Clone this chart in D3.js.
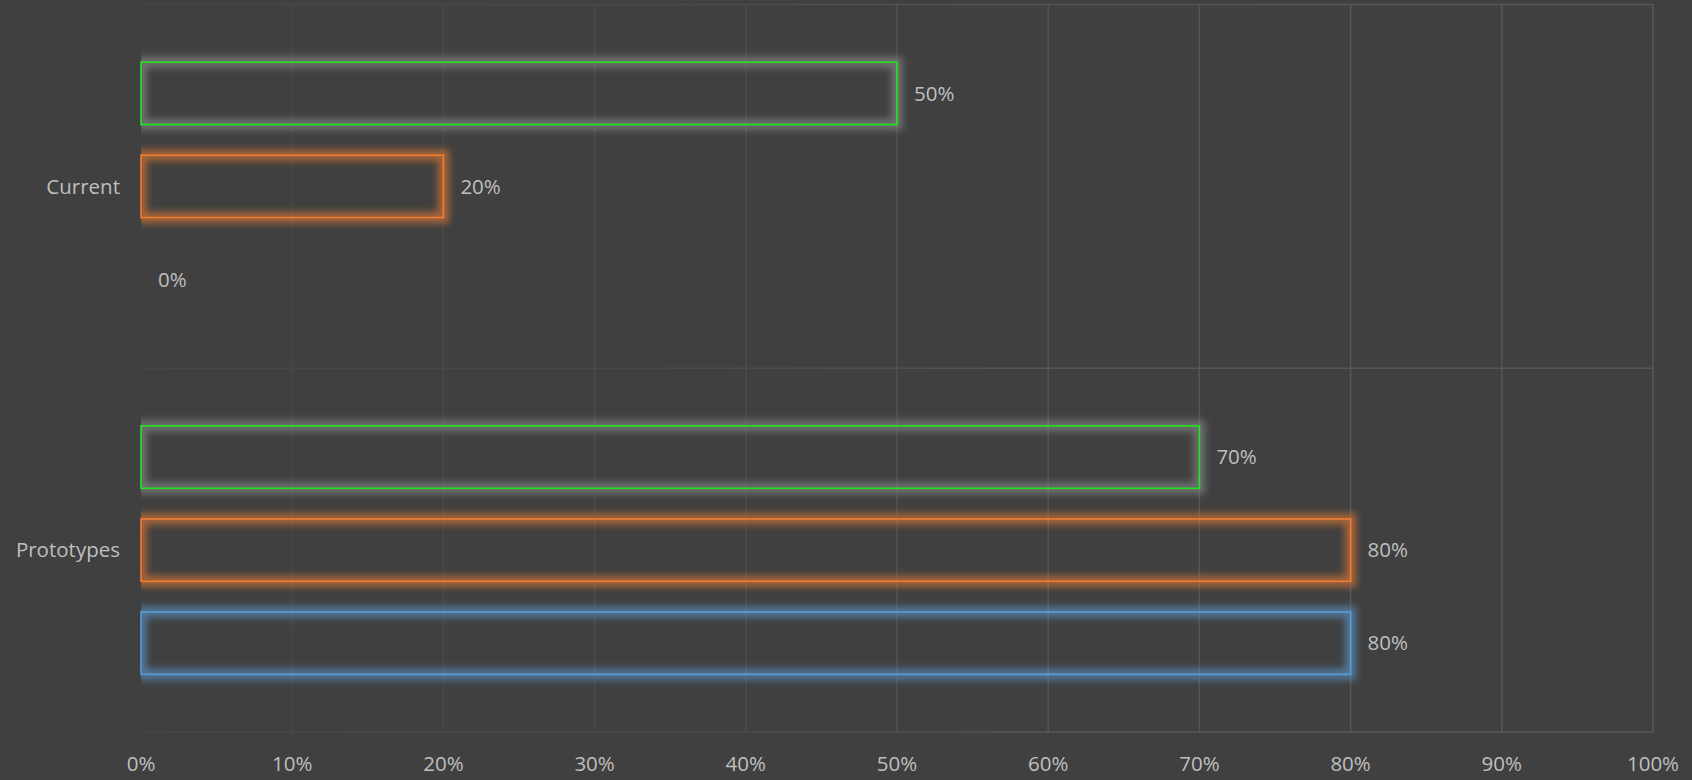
<!DOCTYPE html>
<html>
<head>
<meta charset="utf-8">
<script src="https://cdn.jsdelivr.net/npm/d3@7"></script>
<style>
  html, body { margin: 0; padding: 0; background: #404040; }
  svg { display: block; }
  text { font-family: "Open Sans", Lato, sans-serif; fill: #bfbfbf; }
</style>
</head>
<body>
<svg id="chart" width="1692" height="780"></svg>
<script>
// categories top to bottom, series top to bottom inside each group
var categories = ["Current", "Prototypes"];
var seriesNames = ["Series3", "Series2", "Series1"];
var seriesColors = ["#1ee61e", "#ed7d31", "#5b9bd5"];
var glowColors = ["#8f8f8f", "#ed7d31", "#5b9bd5"];
var currentValues = [0.5, 0.2, 0.0];
var prototypeValues = [0.7, 0.8, 0.8];
var xTicks = [0, 0.1, 0.2, 0.3, 0.4, 0.5, 0.6, 0.7, 0.8, 0.9, 1.0];

var values = [currentValues, prototypeValues];

var svg = d3.select("#chart");
var m = {left: 141, right: 1692 - 1653, top: 4.5, bottom: 780 - 732};
var W = 1692 - m.left - m.right, H = 780 - m.top - m.bottom;
var fs = 20.5;

var x = d3.scaleLinear().domain([0, 1]).range([0, W]);
var y0 = d3.scaleBand().domain(categories).range([0, H]).padding(0);
var y1 = d3.scaleBand().domain(seriesNames).range([0, y0.bandwidth()])
    .paddingInner(0.33).paddingOuter(0.62);

var defs = svg.append("defs");
var grad = defs.append("linearGradient").attr("id", "gridGrad")
    .attr("gradientUnits", "userSpaceOnUse")
    .attr("x1", 0).attr("x2", W).attr("y1", 0).attr("y2", 0);
grad.append("stop").attr("offset", "0%").attr("stop-color", "#464646");
grad.append("stop").attr("offset", "35%").attr("stop-color", "#494949");
grad.append("stop").attr("offset", "60%").attr("stop-color", "#555555");
grad.append("stop").attr("offset", "100%").attr("stop-color", "#575757");

var glow = defs.append("filter").attr("id", "glow")
    .attr("x", "-10%").attr("y", "-40%").attr("width", "120%").attr("height", "180%");
glow.append("feGaussianBlur").attr("stdDeviation", 3.5);

defs.append("clipPath").attr("id", "plotClip")
  .append("rect").attr("x", 0).attr("y", -20).attr("width", W + 40).attr("height", H + 40);

var g = svg.append("g").attr("transform", "translate(" + m.left + "," + m.top + ")");

// vertical gridlines
g.append("g").selectAll("line").data(xTicks.slice(1)).join("line")
    .attr("x1", d => x(d)).attr("x2", d => x(d))
    .attr("y1", 0).attr("y2", H)
    .attr("stroke", "url(#gridGrad)").attr("stroke-width", 1.5);

// horizontal category gridlines
g.append("g").selectAll("line").data(d3.range(categories.length + 1)).join("line")
    .attr("x1", 0).attr("x2", W)
    .attr("y1", d => d * y0.step()).attr("y2", d => d * y0.step())
    .attr("stroke", "url(#gridGrad)").attr("stroke-width", 1.5);

// bars
categories.forEach(function (cat, ci) {
  var grp = g.append("g").attr("transform", "translate(0," + y0(cat) + ")");
  seriesNames.forEach(function (s, si) {
    var v = values[ci][si];
    var yy = y1(s), bh = y1.bandwidth(), bw = x(v);
    if (v > 0) {
      grp.append("g").attr("clip-path", "url(#plotClip)")
        .append("rect")
        .attr("x", 0).attr("y", yy).attr("width", bw).attr("height", bh)
        .attr("fill", "none").attr("stroke", glowColors[si])
        .attr("stroke-width", 11).attr("stroke-opacity", 0.6)
        .attr("filter", "url(#glow)");
      grp.append("rect")
        .attr("x", 0).attr("y", yy).attr("width", bw).attr("height", bh)
        .attr("fill", "none").attr("stroke", seriesColors[si])
        .attr("stroke-width", 1.6);
    }
    grp.append("text")
      .attr("x", bw + 17).attr("y", yy + bh / 2)
      .attr("dy", "0.35em").attr("font-size", fs)
      .text(d3.format(".0%")(v));
  });
});

// category labels
g.append("g").selectAll("text").data(categories).join("text")
    .attr("x", -21).attr("y", d => y0(d) + y1("Series2") + y1.bandwidth() / 2)
    .attr("dy", "0.35em").attr("text-anchor", "end").attr("font-size", fs)
    .text(d => d);

// x axis labels
g.append("g").selectAll("text").data(xTicks).join("text")
    .attr("x", d => x(d)).attr("y", H + 32)
    .attr("dy", "0.35em").attr("text-anchor", "middle").attr("font-size", fs)
    .text(d => d3.format(".0%")(d));
</script>
</body>
</html>
